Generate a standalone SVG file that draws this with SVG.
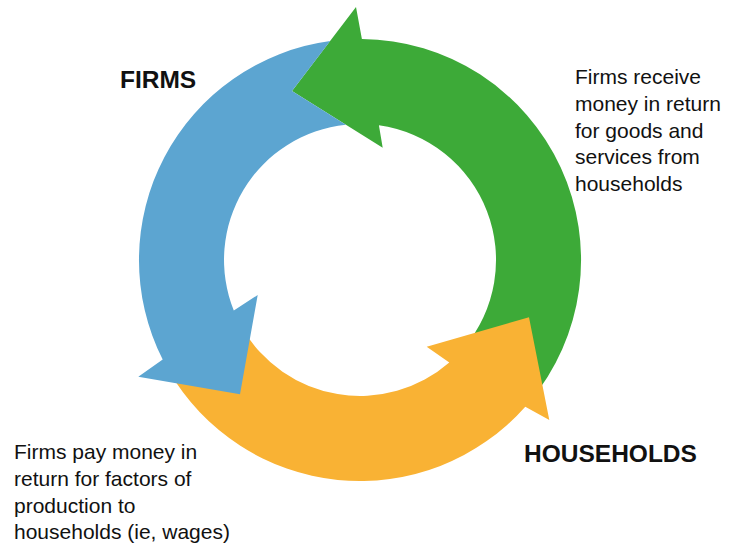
<svg xmlns="http://www.w3.org/2000/svg" width="734" height="545" viewBox="0 0 734 545">
<style>
.lbl{font-family:"Liberation Sans",Arial,sans-serif;font-size:21px;fill:#111}
.ttl{font-family:"Liberation Sans",Arial,sans-serif;font-size:24.5px;font-weight:bold;fill:#111}
.green{fill:#3DAA38}
.orange{fill:#F9B234}
.blue{fill:#5CA5D1}
</style>
<rect width="734" height="545" fill="#fff"/>
<g id="connectors">
<g id="arrow-green">
<path class="green" d="M292,91 L356,7 L361.9,39 A221,221 0 0 1 529.3,402.1 L464.2,347.4 A136,136 0 0 0 378.9,125.3 L382.7,147.7 Z"/>
</g>
<g id="arrow-orange">
<path class="orange" d="M529,317.3 L549.3,420 L525.3,406.7 A221,221 0 0 1 168.6,370.5 L242.2,328 A136,136 0 0 0 449.3,362.5 L426.7,346.7 Z"/>
</g>
<g id="arrow-blue">
<path class="blue" d="M240,394.3 L257.7,295 L233.8,310.6 A136,136 0 0 1 345.9,124.7 L292,91 L330.2,41 A221,221 0 0 0 162.7,359.6 L138.3,376.7 Z"/>
</g>
</g>
<g id="node-firms">
<text class="ttl" x="120" y="88">FIRMS</text>
</g>
<g id="node-households">
<text class="ttl" x="524" y="462">HOUSEHOLDS</text>
</g>
<g id="label-green">
<text class="lbl" x="575" y="84">Firms receive</text>
<text class="lbl" x="575" y="111">money in return</text>
<text class="lbl" x="575" y="137.5">for goods and</text>
<text class="lbl" x="575" y="164">services from</text>
<text class="lbl" x="575" y="191">households</text>
</g>
<g id="label-orange">
<text class="lbl" x="14" y="459">Firms pay money in</text>
<text class="lbl" x="14" y="486">return for factors of</text>
<text class="lbl" x="14" y="512.5">production to</text>
<text class="lbl" x="14" y="539">households (ie, wages)</text>
</g>
</svg>
